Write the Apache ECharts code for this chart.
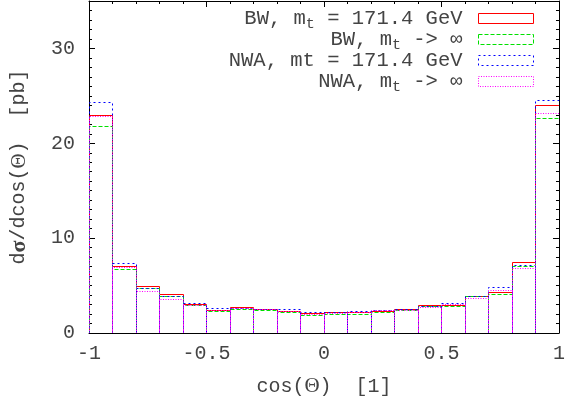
<!DOCTYPE html>
<html>
<head>
<meta charset="utf-8">
<script src="https://cdn.jsdelivr.net/npm/echarts@6/dist/echarts.min.js"></script>
<style>
html,body{margin:0;padding:0;background:#fff;}
#chart{width:568px;height:405px;}
</style>
</head>
<body>
<div id="chart"></div>
<script>
// bin edges for cos(Theta)
const binEdges = [-1, -0.9, -0.8, -0.7, -0.6, -0.5, -0.4, -0.3, -0.2, -0.1, 0, 0.1, 0.2, 0.3, 0.4, 0.5, 0.6, 0.7, 0.8, 0.9, 1];
// dsigma/dcos(Theta) [pb]
const bwFinite  = [23.0, 7.1, 5.0, 4.1, 3.1, 2.45, 2.7, 2.55, 2.3, 2.1, 2.2, 2.2, 2.35, 2.5, 2.9, 3.0, 3.95, 4.35, 7.45, 24.05];
const bwInf     = [21.8, 6.7, 4.7, 3.85, 2.9, 2.35, 2.55, 2.4, 2.25, 1.85, 2.05, 2.05, 2.2, 2.45, 2.8, 2.85, 3.85, 4.1, 7.1, 22.65];
const nwaFinite = [24.4, 7.4, 4.7, 3.9, 3.2, 2.65, 2.65, 2.5, 2.5, 2.2, 2.25, 2.35, 2.45, 2.55, 2.85, 3.2, 3.85, 4.8, 7.2, 24.6];
const nwaInf    = [22.9, 7.0, 4.4, 3.55, 3.0, 2.4, 2.6, 2.5, 2.35, 2.05, 2.1, 2.25, 2.45, 2.4, 2.75, 3.05, 3.65, 4.55, 6.8, 23.2];
const seriesNames = ['BW, mt = 171.4 GeV', 'BW, mt -> inf', 'NWA, mt = 171.4 GeV (plain)', 'NWA, mt -> inf'];
const legendLabels = ['BW, m{sub|t} = 171.4 GeV', 'BW, m{sub|t} -> ∞', 'NWA, mt = 171.4 GeV', 'NWA, m{sub|t} -> ∞'];
const xTicks = [-1, -0.5, 0, 0.5, 1];
const yTicks = [0, 10, 20, 30];

const FONT = 'Liberation Mono';
const SYM = 'Liberation Serif';
const TXT = '#444';
const colors = ['#ff0000', '#00e000', '#0000ff', '#ff00ff'];
const dashes = [null, [4, 2], [2, 3], [1, 1.5]];
const allValues = [bwFinite, bwInf, nwaFinite, nwaInf];

function makeData(vals) {
  return vals.map((v, i) => [binEdges[i], binEdges[i + 1], v]);
}

const series = allValues.map((vals, k) => ({
  name: seriesNames[k],
  type: 'custom',
  xAxisIndex: 0,
  yAxisIndex: 0,
  encode: { x: [0, 1], y: 2 },
  data: makeData(vals),
  clip: true,
  z: 2 + k,
  itemStyle: { color: colors[k] },
  renderItem: function (params, api) {
    const a = api.coord([api.value(0), 0]);
    const b = api.coord([api.value(1), api.value(2)]);
    const x0 = Math.round(a[0]) + 0.5, x1 = Math.round(b[0]) + 0.5;
    const y0 = Math.round(a[1]) + 0.5, y1 = Math.round(b[1]) + 0.5;
    return {
      type: 'polyline',
      shape: { points: [[x0, y0], [x0, y1], [x1, y1], [x1, y0]] },
      style: { stroke: colors[k], fill: null, lineWidth: 1, lineDash: dashes[k] }
    };
  }
}));

const richSub = { sub: { fontFamily: FONT, fontSize: 15, color: TXT, verticalAlign: 'bottom', lineHeight: 26 } };
const legendTops = [3, 24, 45, 66];
const legends = seriesNames.map((n, k) => ({
  data: [{ name: n, icon: 'rect',
    itemStyle: { color: 'rgba(0,0,0,0)', borderColor: colors[k], borderWidth: 1, borderType: dashes[k] || 'solid' } }],
  right: 29,
  top: legendTops[k],
  orient: 'vertical',
  align: 'right',
  itemWidth: 55,
  itemHeight: 10,
  selectedMode: false,
  formatter: function () { return legendLabels[k]; },
  textStyle: { fontFamily: FONT, fontSize: 20.5, color: TXT, padding: [0, 11, 0, 0], rich: richSub }
}));

const axisLineStyle = { show: true, onZero: false, lineStyle: { color: '#000', width: 1 } };
function xAxisDef(pos, main) {
  return {
    type: 'value', min: -1, max: 1, interval: 0.5, position: pos,
    axisLine: axisLineStyle,
    axisTick: { show: true, inside: true, length: 6, lineStyle: { color: '#000' } },
    minorTick: { show: true, splitNumber: 5, length: 3, lineStyle: { color: '#000' } },
    splitLine: { show: false },
    axisLabel: main ? { show: true, margin: 11, fontFamily: FONT, fontSize: 20, color: TXT,
      formatter: v => (xTicks.indexOf(v) >= 0 ? String(v) : '') } : { show: false },
    name: main ? 'cos({b|Θ})  [1]' : '',
    nameLocation: 'middle',
    nameGap: 43,
    nameTextStyle: { fontFamily: FONT, fontSize: 20, color: TXT, rich: { b: { fontFamily: SYM, fontSize: 21, color: TXT } } }
  };
}
function yAxisDef(pos, main, minor) {
  return {
    type: 'value', min: 0, max: 35, interval: minor ? 1 : 10, position: pos,
    axisLine: minor ? { show: false, onZero: false } : axisLineStyle,
    axisTick: { show: true, inside: true, length: minor ? 3 : 6, lineStyle: { color: '#000' } },
    splitLine: { show: false },
    axisLabel: (main && !minor) ? { show: true, margin: 14, fontFamily: FONT, fontSize: 20, color: TXT,
      formatter: v => (yTicks.indexOf(v) >= 0 ? String(v) : '') } : { show: false },
    name: (main && !minor) ? 'd{s|σ}/dcos({b|Θ})  [pb]' : '',
    nameLocation: 'middle',
    nameGap: 59,
    nameTextStyle: { fontFamily: FONT, fontSize: 20, color: TXT,
      rich: { s: { fontFamily: SYM, fontSize: 22, fontWeight: 'bold', color: TXT },
              b: { fontFamily: SYM, fontSize: 21, color: TXT } } }
  };
}

const chart = echarts.init(document.getElementById('chart'), null, { renderer: 'canvas' });
chart.setOption({
  animation: false,
  backgroundColor: '#fff',
  grid: { left: 87, right: 9, top: 1, bottom: 72, containLabel: false },
  xAxis: [xAxisDef('bottom', true), xAxisDef('top', false)],
  yAxis: [yAxisDef('left', true, false), yAxisDef('left', false, true), yAxisDef('right', false, false), yAxisDef('right', false, true)],
  legend: legends,
  series: series
});
</script>
</body>
</html>
